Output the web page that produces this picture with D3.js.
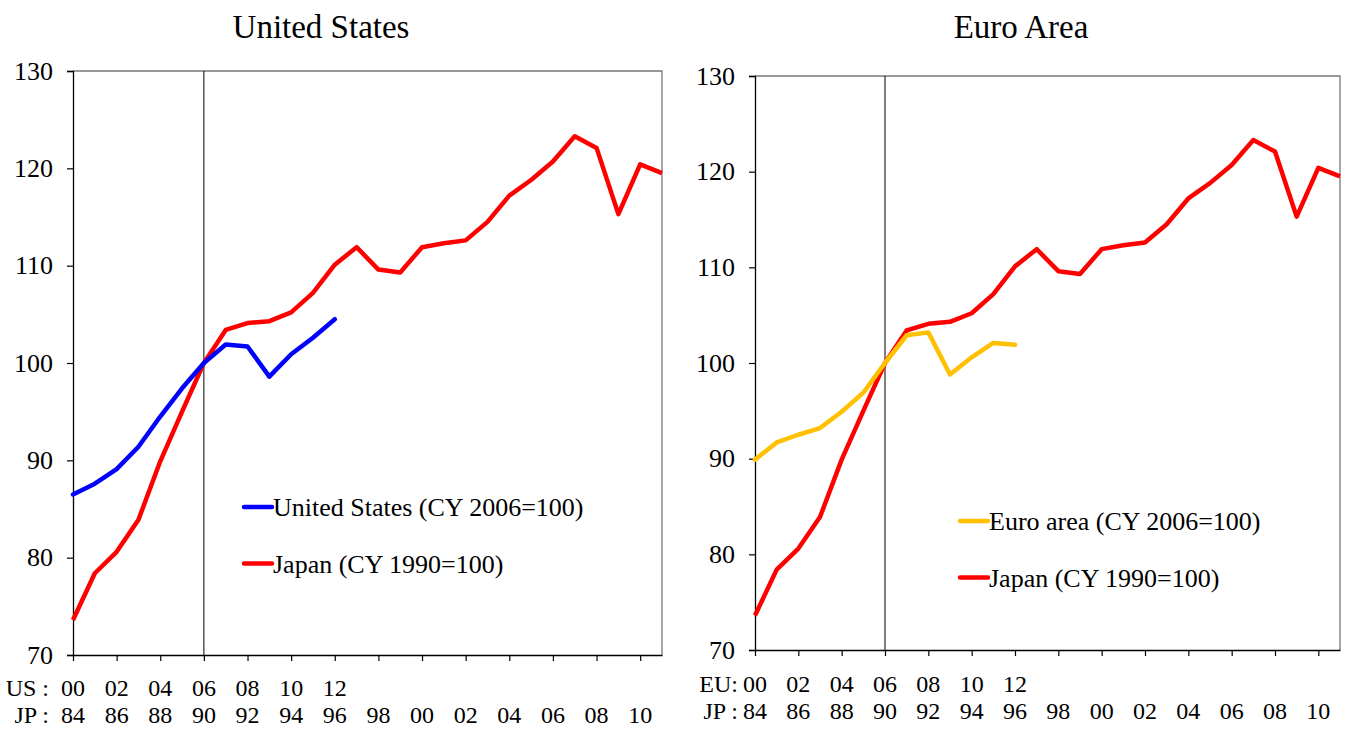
<!DOCTYPE html>
<html>
<head>
<meta charset="utf-8">
<script src="https://cdn.jsdelivr.net/npm/d3@7"></script>
<style>
  body { margin: 0; background: #fff; }
</style>
</head>
<body>
<svg id="chart" width="1348" height="729"></svg>
<script>
// Japan index (CY 1990 = 100), 1984-2011
const jpYears = d3.range(1984, 2012);
const jpValues = [73.6, 78.4, 80.6, 83.9, 89.9, 95.0, 100.0, 103.4, 104.1, 104.3,
    105.2, 107.2, 110.1, 111.9, 109.6, 109.3, 111.9, 112.3, 112.6, 114.5,
    117.2, 118.8, 120.7, 123.3, 122.1, 115.3, 120.4, 119.5];

// United States index (CY 2006 = 100), 2000-2012
const usYears = d3.range(2000, 2013);
const usValues = [86.5, 87.6, 89.1, 91.4, 94.5, 97.4, 100.0, 101.9, 101.7, 98.6, 100.9, 102.6, 104.5];

// Euro area index (CY 2006 = 100), 2000-2012
const euYears = d3.range(2000, 2013);
const euValues = [89.9, 91.7, 92.5, 93.2, 94.9, 96.9, 100.0, 102.9, 103.2, 98.8, 100.6, 102.1, 101.9];

const yTicks = [70, 80, 90, 100, 110, 120, 130];
const jpTickLabels = ['84', '86', '88', '90', '92', '94', '96', '98', '00', '02', '04', '06', '08', '10'];
const otherTickLabels = ['00', '02', '04', '06', '08', '10', '12'];

const yearShift = 16; // 2000 (US/EU) sits over 1984 (JP)
const serif = '"Liberation Serif", "Times New Roman", Times, serif';
const fs = 26;
const rowFs = 24;

const svg = d3.select('#chart');

function label(sel, size) {
    return sel.style('font-family', serif).style('font-size', size + 'px').attr('fill', '#000');
}

function drawPanel(p) {
    const x = d3.scaleLinear().domain([1984, 2011]).range([p.left, p.right]);
    const y = d3.scaleLinear().domain([70, 130]).range([p.bottom, p.top]);
    const g = svg.append('g');

    label(g.append('text'), 33)
        .attr('x', p.titleX)
        .attr('y', p.titleY)
        .attr('text-anchor', 'middle')
        .text(p.title);

    // top and right frame
    g.append('path')
        .attr('d', `M${p.left},${p.top}H${p.right}V${p.bottom}`)
        .attr('fill', 'none')
        .attr('stroke', '#777')
        .attr('stroke-width', 1.3);

    // base year marker
    g.append('line')
        .attr('x1', x(1990)).attr('x2', x(1990))
        .attr('y1', p.top).attr('y2', p.bottom)
        .attr('stroke', '#000').attr('stroke-width', 1);

    const yAxis = g.append('g')
        .attr('transform', `translate(${p.left},0)`)
        .call(d3.axisLeft(y).tickValues(yTicks).tickSize(6).tickPadding(14));
    label(yAxis.selectAll('text'), fs);

    const xTickYears = d3.range(1984, 2011, 2);
    const xAxis = g.append('g')
        .attr('transform', `translate(0,${p.bottom})`)
        .call(d3.axisBottom(x).tickValues(xTickYears).tickSize(6).tickSizeOuter(0).tickFormat(''));
    xAxis.select('.domain').attr('stroke', '#000').attr('stroke-width', 1.3);
    yAxis.select('.domain').attr('stroke', '#000').attr('stroke-width', 1.3);
    g.selectAll('.tick line').attr('stroke', '#000').attr('stroke-width', 1.2);

    // two-row year labels
    label(g.append('text'), rowFs).attr('x', p.rowLabelX).attr('y', p.row1Y)
        .attr('text-anchor', 'end').text(p.code === 'EU' ? 'EU:' : 'US :');
    label(g.append('text'), rowFs).attr('x', p.rowLabelX).attr('y', p.row2Y)
        .attr('text-anchor', 'end').text('JP :');
    label(g.selectAll('.row1').data(otherTickLabels).join('text'), rowFs)
        .attr('x', (d, i) => x(1984 + i * 2))
        .attr('y', p.row1Y)
        .attr('text-anchor', 'middle')
        .text(d => d);
    label(g.selectAll('.row2').data(jpTickLabels).join('text'), rowFs)
        .attr('x', (d, i) => x(1984 + i * 2))
        .attr('y', p.row2Y)
        .attr('text-anchor', 'middle')
        .text(d => d);

    const line = d3.line().x(d => x(d[0])).y(d => y(d[1]));
    const other = p.years.map((yr, i) => [yr - yearShift, p.values[i]]);
    const japan = jpYears.map((yr, i) => [yr, jpValues[i]]);

    g.append('path').datum(japan)
        .attr('d', line).attr('fill', 'none')
        .attr('stroke', '#ff0000').attr('stroke-width', 4.5)
        .attr('stroke-linejoin', 'round');
    g.append('path').datum(other)
        .attr('d', line).attr('fill', 'none')
        .attr('stroke', p.color).attr('stroke-width', 4.5)
        .attr('stroke-linejoin', 'round').attr('stroke-linecap', 'round');

    // legend
    const legend = [
        {label: p.legendLabel, color: p.color},
        {label: 'Japan (CY 1990=100)', color: '#ff0000'}
    ];
    const lg = g.selectAll('.legend').data(legend).join('g')
        .attr('transform', (d, i) => `translate(${p.legendX},${p.legendY + i * 56.5})`);
    lg.append('line')
        .attr('x1', 0).attr('x2', 28)
        .attr('stroke', d => d.color).attr('stroke-width', 4.5)
        .attr('stroke-linecap', 'round');
    label(lg.append('text'), fs)
        .attr('x', 29).attr('y', 9)
        .text(d => d.label);
}

drawPanel({
    title: 'United States', code: 'US', color: '#0000ff',
    legendLabel: 'United States (CY 2006=100)',
    years: usYears, values: usValues,
    left: 73, right: 662, top: 71, bottom: 655,
    titleX: 321, titleY: 38, rowLabelX: 49, row1Y: 696, row2Y: 723,
    legendX: 244, legendY: 507
});

drawPanel({
    title: 'Euro Area', code: 'EU', color: '#ffc000',
    legendLabel: 'Euro area (CY 2006=100)',
    years: euYears, values: euValues,
    left: 755, right: 1340, top: 76, bottom: 650,
    titleX: 1021, titleY: 38, rowLabelX: 738, row1Y: 692, row2Y: 719,
    legendX: 960, legendY: 521
});
</script>
</body>
</html>
